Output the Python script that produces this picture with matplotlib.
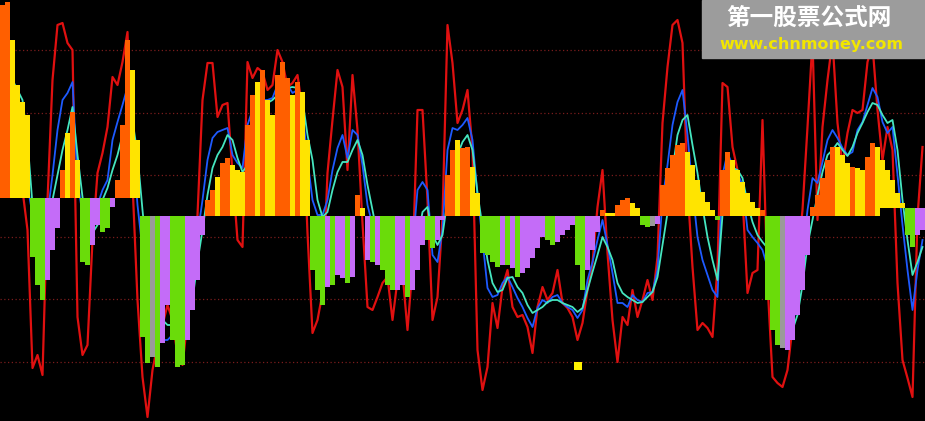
import numpy as np
import matplotlib
matplotlib.use("Agg")
import matplotlib.pyplot as plt
from matplotlib.patches import Rectangle

# values, as screen rows (0 = top of the panel, 421 = bottom)
bar_end = [
    5, 2, 40, 85, 102, 115, 257, 285, 300, 280,
    250, 228, 170, 133, 112, 160, 262, 265, 245, 225,
    232, 228, 207, 180, 125, 40, 70, 140, 337, 363,
    357, 367, 343, 305, 340, 367, 365, 340, 310, 280,
    235, 200, 190, 177, 163, 158, 165, 170, 172, 125,
    95, 82, 70, 100, 115, 75, 62, 78, 95, 82,
    92, 140, 270, 290, 305, 287, 285, 275, 278, 283,
    277, 195, 208, 260, 262, 265, 270, 285, 290, 290,
    285, 297, 290, 270, 245, 240, 248, 240, 220, 175,
    150, 140, 148, 147, 167, 193, 253, 255, 262, 267,
    265, 265, 268, 277, 273, 268, 258, 248, 237, 240,
    245, 242, 235, 230, 225, 265, 290, 270, 250, 232,
    210, 213, 213, 205, 200, 198, 203, 208, 225, 227,
    226, 224, 185, 168, 155, 145, 143, 152, 165, 180,
    192, 202, 210, 220, 170, 152, 160, 170, 182, 193,
    202, 208, 210, 300, 330, 345, 348, 350, 340, 315,
    290, 255, 207, 195, 178, 160, 147, 147, 155, 163,
    167, 168, 170, 157, 143, 147, 160, 170, 180, 193,
    203, 235, 247, 235, 230,
]
bar_base = [198] * 28 + [216] * 148 + [208] * 9
bar_kind = ("OOYYYYGGGP" "PPOYOYGGPP" "GGPOOOYYGG" "AGPPGGGPPP" "POOYOOYYYO"
            "OYOYYOOOYO" "YYGGGPGPPG" "POYPGPGGGP" "PGPPPGGPPO" "OYOOYYGGGG"
            "PGPGPPPPPG" "GPPPPGGPPP" "OYYOOOYYGG" "APOOOOOYYY" "YYYGOOYYYY"
            "YYOGGGAPPP" "PPOOOOOYYY" "OYYOOYYYYY" "YGGPP")

red = [
    120, 140, 160, 175, 190, 230, 368, 355, 375, 200,
    80, 25, 23, 43, 50, 317, 355, 345, 240, 173,
    153, 127, 77, 85, 62, 32, 183, 300, 377, 417,
    370, 345, 325, 305, 320, 355, 365, 320, 275, 215,
    100, 63, 63, 117, 105, 103, 173, 240, 247, 62,
    78, 68, 72, 90, 85, 50, 62, 87, 83, 75,
    110, 233, 333, 320, 293, 173, 120, 70, 87, 170,
    75, 130, 223, 307, 310, 297, 283, 277, 320, 280,
    273, 330, 267, 110, 110, 200, 320, 297, 217, 25,
    63, 123, 110, 90, 150, 350, 390, 367, 303, 328,
    287, 270, 307, 317, 315, 327, 353, 307, 287, 300,
    293, 270, 303, 308, 317, 340, 323, 290, 263, 207,
    170, 253, 320, 362, 317, 325, 290, 317, 300, 280,
    300, 257, 123, 67, 25, 20, 43, 187, 267, 330,
    323, 328, 337, 267, 83, 87, 147, 170, 197, 293,
    273, 270, 120, 283, 377, 383, 387, 370, 327, 260,
    210, 127, 40, 220, 127, 80, 40, 123, 165, 133,
    110, 113, 110, 62, 45, 110, 160, 127, 150, 283,
    360, 378, 397, 217, 147,
]
blue = [
    90, 100, 110, 120, 130, 185, 215, 228, 230, 215,
    175, 130, 100, 93, 82, 180, 215, 225, 225, 205,
    190, 180, 140, 122, 105, 87, 140, 205, 250, 290,
    320, 335, 340, 340, 335, 325, 310, 290, 270, 235,
    200, 160, 138, 132, 130, 128, 155, 163, 168, 125,
    110, 105, 100, 100, 98, 85, 77, 85, 93, 90,
    110, 160, 200, 215, 215, 200, 170, 148, 135, 158,
    130, 135, 165, 205, 225, 240, 255, 262, 268, 272,
    275, 275, 250, 190, 182, 190, 255, 262, 230, 150,
    128, 130, 125, 118, 140, 195, 240, 288, 297, 295,
    283, 277, 287, 298, 307, 318, 327, 308, 300, 303,
    297, 295, 303, 307, 310, 318, 310, 280, 262, 240,
    220, 245, 273, 303, 303, 307, 295, 300, 302, 293,
    292, 270, 200, 165, 125, 102, 90, 135, 190, 237,
    260, 275, 290, 297, 175, 153, 165, 173, 185, 230,
    237, 243, 250, 267, 293, 315, 330, 340, 325, 300,
    255, 210, 178, 183, 162, 140, 130, 138, 148, 155,
    152, 130, 122, 105, 88, 97, 122, 133, 127, 175,
    225, 270, 310, 270, 240,
]
cyan = [
    60, 70, 80, 90, 100, 140, 205, 215, 222, 220,
    200, 175, 150, 130, 107, 155, 197, 225, 233, 225,
    200, 188, 170, 155, 135, 120, 120, 155, 210, 260,
    290, 310, 320, 325, 325, 320, 315, 310, 300, 262,
    230, 195, 168, 155, 147, 135, 140, 158, 172, 165,
    140, 120, 110, 103, 100, 95, 87, 88, 87, 88,
    100, 135, 160, 200, 217, 212, 190, 172, 162, 162,
    150, 140, 155, 185, 210, 235, 245, 255, 262, 268,
    272, 275, 265, 240, 212, 207, 235, 245, 235, 200,
    170, 155, 142, 135, 150, 193, 227, 260, 283, 292,
    290, 278, 277, 287, 293, 305, 313, 310, 307, 302,
    300, 300, 303, 305, 307, 312, 308, 290, 272, 255,
    237, 247, 260, 283, 293, 297, 300, 303, 302, 297,
    292, 277, 245, 213, 170, 135, 120, 115, 145, 173,
    207, 237, 260, 280, 215, 185, 168, 170, 178, 203,
    222, 235, 242, 248, 265, 290, 310, 330, 330, 315,
    285, 245, 220, 195, 172, 155, 150, 143, 150, 156,
    147, 133, 123, 112, 103, 105, 115, 123, 120, 150,
    200, 240, 275, 262, 247,
]
grid_rows = [50, 113, 175, 237, 299, 362]
signal_idx = [115]
signal_row = [366]

palette = {"O": "#FF5F00", "Y": "#FFE400", "G": "#6ADC0A",
           "P": "#C46CF8", "A": "#9A9A9A"}

n = len(bar_end)
x = np.arange(n) + 0.5
end = np.array(bar_end, dtype=float)
base = np.array(bar_base, dtype=float)

fig = plt.figure(figsize=(9.25, 4.21), dpi=100, facecolor="black")
ax = fig.add_axes([0, 0, 1, 1], facecolor="black")

for r in grid_rows:
    ax.axhline(r, color="#7a1c1c", lw=0.9, ls=(0, (1, 2)), zorder=0.5)

ax.plot(x, red, color="#E01010", lw=1.6, zorder=1)
ax.plot(x, blue, color="#1E5AFF", lw=1.3, zorder=1.1)
ax.plot(x, cyan, color="#45E6C0", lw=1.3, zorder=1.2)

ax.bar(x, end - base, bottom=base, width=1.0,
       color=[palette[k] for k in bar_kind], linewidth=0,
       antialiased=False, zorder=2)

ax.scatter(np.array(signal_idx) + 0.6, signal_row, marker="s", s=40,
           color="#FFF200", linewidths=0, zorder=3)

ax.set_xlim(0, n)
ax.set_ylim(421, 0)
ax.axis("off")

# watermark box in the upper right corner
ax.add_patch(Rectangle((702 / 925, 1 - 58 / 421), 1 - 702 / 925, 58 / 421,
                       transform=ax.transAxes, color="#9c9c9c", zorder=10))
ax.text(809 / 925, 1 - 18 / 421, "第一股票公式网", transform=ax.transAxes,
        ha="center", va="center", color="white", fontsize=17, fontweight="bold",
        family=["Noto Sans CJK SC", "DejaVu Sans"], zorder=11)
ax.text(811 / 925, 1 - 44 / 421, "www.chnmoney.com", transform=ax.transAxes,
        ha="center", va="center", color="#F2E600", fontsize=11.5,
        fontweight="bold", family="DejaVu Sans", zorder=11)

fig.savefig("out.png", dpi=100, facecolor="black")
